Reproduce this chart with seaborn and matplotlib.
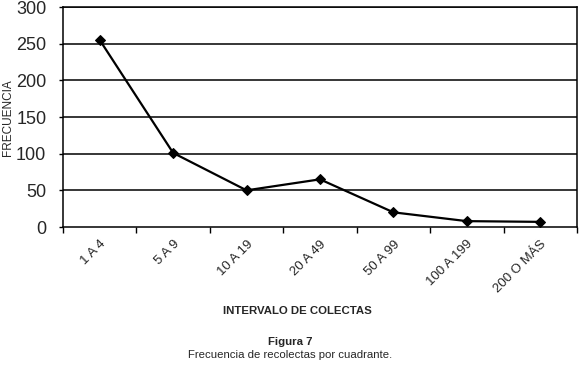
import numpy as np
import pandas as pd
import seaborn as sns
import matplotlib.pyplot as plt

intervalos = ["1 A 4", "5 A 9", "10 A 19", "20 A 49", "50 A 99", "100 A 199", "200 O MÁS"]
frecuencia = [255, 101, 50, 65, 20, 8, 7]
yticks = [0, 50, 100, 150, 200, 250, 300]

sns.set_style("white")
plt.rcParams["font.family"] = ["Liberation Sans", "DejaVu Sans"]

df = pd.DataFrame({"x": np.arange(len(intervalos)), "y": frecuencia})

fig = plt.figure(figsize=(5.8, 3.65), dpi=100)
ax = fig.add_axes([63 / 580, 1 - 227 / 365, 514 / 580, 220 / 365])

for t in yticks[1:]:
    ax.axhline(t, color="black", lw=1.1, zorder=1)

sns.lineplot(data=df, x="x", y="y", ax=ax, color="black", lw=1.6,
             marker="D", markersize=5, markeredgecolor="black", zorder=3)

ax.set_xlim(-0.5, len(intervalos) - 0.5)
ax.set_ylim(0, 300)
ax.set_yticks(yticks)
ax.set_yticklabels([str(v) for v in yticks], fontsize=13)
ax.set_xticks(np.arange(len(intervalos)))
ax.set_xticklabels(intervalos, rotation=45, ha="right", rotation_mode="anchor", fontsize=9.5)
ax.tick_params(axis="x", length=0, pad=8)
ax.set_xticks(np.arange(len(intervalos) + 1) - 0.5, minor=True)
ax.tick_params(axis="x", which="minor", length=4, width=1, color="black", direction="out", bottom=True)
ax.tick_params(axis="y", length=3, width=1, color="black", direction="out", left=True, pad=9)

for s in ax.spines.values():
    s.set_color("black")
    s.set_linewidth(1.1)

ax.set_xlabel("")
ax.set_ylabel("")
fig.text(8 / 580, 1 - 118 / 365, "FRECUENCIA", rotation=90, ha="center", va="center", fontsize=8.5)

fig.text(0.5 + 7 / 580, 1 - 311 / 365, "INTERVALO DE COLECTAS", ha="center", va="center",
         fontsize=8.2, fontweight="bold")
fig.text(0.5, 1 - 342 / 365, "Figura 7", ha="center", va="center", fontsize=8.2, fontweight="bold")
fig.text(0.5, 1 - 355 / 365, "Frecuencia de recolectas por cuadrante.", ha="center", va="center", fontsize=8.2)

fig.savefig("out.png", dpi=100, facecolor="white")
